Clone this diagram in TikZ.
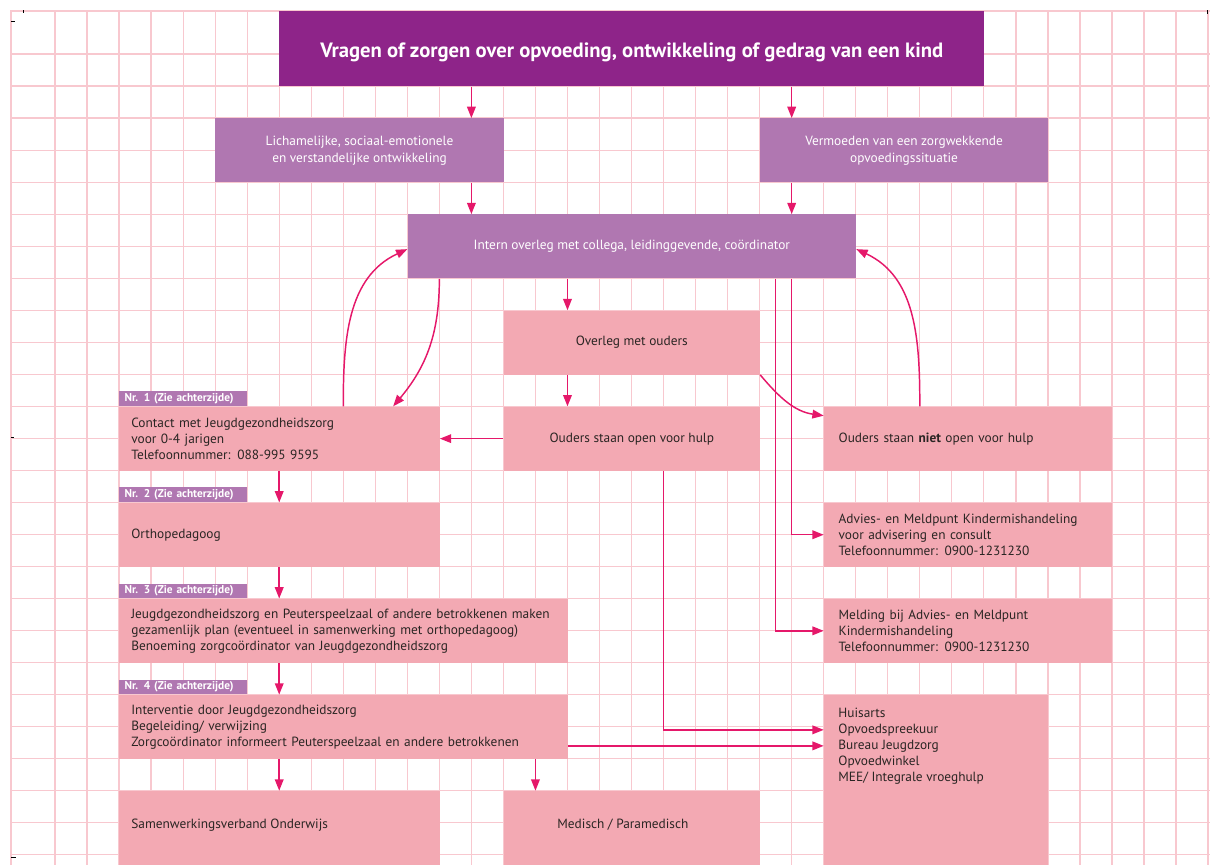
\documentclass[tikz,border=0pt]{standalone}
\usepackage{fontspec}
\setmainfont{PT Sans}
\usetikzlibrary{arrows.meta}
\definecolor{paars}{HTML}{8E2489}
\definecolor{lila}{HTML}{B077B1}
\definecolor{roze}{HTML}{F3A9B3}
\definecolor{roosterroze}{HTML}{F8C8CF}
\definecolor{pijlrood}{HTML}{E5186A}
\definecolor{donker}{HTML}{2A2523}
\tikzset{
    lijn/.style={draw=roosterroze, line width=0.9pt},
    pijl/.style={draw=pijlrood, line width=1.1pt, -{Triangle[length=8.5pt,width=6.5pt]}},
    kop/.style={fill=paars, text=white, anchor=north west, inner sep=0pt, text height=13.5pt, text depth=0pt,
        minimum width=528pt, minimum height=56.2pt, font=\fontsize{15.5}{18}\selectfont\bfseries},
    lilablok/.style={fill=lila, text=white, anchor=north west, inner sep=0pt, align=center,
        minimum height=48pt, font=\fontsize{10}{12.75}\selectfont},
    tekst/.style={text=donker, font=\fontsize{10}{12}\selectfont},
    rozeblok/.style={tekst, fill=roze, anchor=north west, inner sep=0pt, minimum height=48pt},
    links/.style={align=left, inner xsep=9pt, text width=#1},
    rechts/.style={align=left, inner xsep=11pt, text width=194pt},
    nummer/.style={fill=lila, text=white, anchor=south west, inner sep=0pt, inner xsep=4pt,
        text width=88pt, minimum height=11pt, align=left, font=\fontsize{8.5}{9}\selectfont\bfseries}
}
\begin{document}
\begin{tikzpicture}[x=24pt, y=24pt]
\useasboundingbox (-1.717,1.686) rectangle (36.06,-25.29);
% rooster
\foreach \i in {0,...,36}
{
    \draw[lijn] (\i,1.3425) -- (\i,-25.4);
}
\foreach \j in {0,...,25}
{
    \draw[lijn] (-1.374,-\j) -- (36.1,-\j);
}
\draw[lijn] (-1.374,-25.4) -- (-1.374,1.3425) -- (36.1,1.3425);
\draw[black, line width=0.6pt] (-1.374,1.03) -- (-1.25,1.03) (-1,1.374) -- (-1,1.28)
    (35.97,1.374) -- (35.97,1.25) (-1.374,-11.96) -- (-1.28,-11.96) (-1.374,-25.07) -- (-1.22,-25.07);

\node[kop] (vraag) at (7,1.3425) {Vragen of zorgen over opvoeding, ontwikkeling of gedrag van een kind};
\node[lilablok, minimum width=216pt] (lich) at (5,-2) {Lichamelijke, sociaal-emotionele\\en verstandelijke ontwikkeling};
\node[lilablok, minimum width=216pt] (verm) at (22,-2) {Vermoeden van een zorgwekkende\\opvoedingssituatie};
\node[lilablok, minimum width=336pt] (intern) at (11,-5) {Intern overleg met collega, leidinggevende, coördinator};
\node[rozeblok, minimum width=192pt] (overleg) at (14,-8) {Overleg met ouders};
\node[rozeblok, minimum width=192pt] (open) at (14,-11) {Ouders staan open voor hulp};
\node[rozeblok, rechts] (niet) at (24,-11) {Ouders staan \textbf{niet} open voor hulp};
\node[rozeblok, links=222pt] (contact) at (2,-11) {Contact met Jeugdgezondheidszorg\\voor 0-4 jarigen\\Telefoonnummer: 088-995 9595};
\node[rozeblok, links=222pt] (ortho) at (2,-14) {Orthopedagoog};
\node[rozeblok, rechts] (advies) at (24,-14) {Advies- en Meldpunt Kindermishandeling\\voor advisering en consult\\Telefoonnummer: 0900-1231230};
\node[rozeblok, links=318pt] (plan) at (2,-17) {Jeugdgezondheidszorg en Peuterspeelzaal of andere betrokkenen maken\\gezamenlijk plan (eventueel in samenwerking met orthopedagoog)\\Benoeming zorgcoördinator van Jeugdgezondheidszorg};
\node[rozeblok, rechts] (melding) at (24,-17) {Melding bij Advies- en Meldpunt\\Kindermishandeling\\Telefoonnummer: 0900-1231230};
\node[rozeblok, links=318pt] (interv) at (2,-20) {Interventie door Jeugdgezondheidszorg\\Begeleiding/ verwijzing\\Zorgcoördinator informeert Peuterspeelzaal en andere betrokkenen};
\node[rozeblok, minimum width=168pt, minimum height=132pt] (huisarts) at (24,-20) {};
\node[rozeblok, minimum width=240pt, minimum height=60pt] (samen) at (2,-23) {};
\node[rozeblok, minimum width=192pt, minimum height=60pt] (medisch) at (14,-23) {};
\node[tekst, anchor=west, align=left, inner sep=0pt] (huistekst) at (24.45,-21.6) {Huisarts\\Opvoedspreekuur\\Bureau Jeugdzorg\\Opvoedwinkel\\MEE/ Integrale vroeghulp};
\node[tekst, anchor=west, inner sep=0pt] (samentekst) at (2.375,-24.07) {Samenwerkingsverband Onderwijs};
\node[tekst, inner sep=0pt] (medtekst) at (17.73,-24.07) {Medisch / Paramedisch};
\foreach \n/\blok in {1/contact,2/ortho,3/plan,4/interv}
{
    \node[nummer] (nr\n) at (\blok.north west) {Nr. \n\ (Zie achterzijde)};
}

% pijlen
\foreach \k in {7,9,12,13,15,16,19,23,27}
{
    \coordinate (k\k) at (\k,0);
}
\coordinate (meld) at (22.5,0);
\coordinate (r1) at (0,-21.6);
\coordinate (r2) at (0,-21.1);
\draw[pijl] (vraag.south -| k13) -- (lich.north -| k13);
\draw[pijl] (vraag.south -| k23) -- (verm.north -| k23);
\draw[pijl] (lich.south -| k13) -- (intern.north -| k13);
\draw[pijl] (verm.south -| k23) -- (intern.north -| k23);
\draw[pijl] (intern.south -| k16) -- (overleg.north -| k16);
\draw[pijl] (overleg.south -| k16) -- (open.north -| k16);
\draw[pijl] (overleg.south east) to[out=-50, in=172] ([yshift=-7pt]niet.north west);
\draw[pijl] (open.west) -- (contact.east);
\draw[pijl] (intern.south -| k12) to[out=-90, in=50] ([xshift=-35pt]contact.north east);
\draw[pijl] (contact.north -| k9) to[out=90, in=-155] ([yshift=-2pt]intern.west);
\draw[pijl] (niet.north -| k27) to[out=90, in=-25] ([yshift=-2pt]intern.east);
\draw[pijl] (intern.south -| k23) |- (advies.west);
\draw[pijl] (intern.south -| meld) |- (melding.west);
\draw[pijl] (contact.south -| k7) -- (ortho.north -| k7);
\draw[pijl] (ortho.south -| k7) -- (plan.north -| k7);
\draw[pijl] (plan.south -| k7) -- (interv.north -| k7);
\draw[pijl] (interv.south -| k7) -- (samen.north -| k7);
\draw[pijl] (interv.south -| k15) -- (medisch.north -| k15);
\draw[pijl] (interv.east |- r1) -- (huisarts.west |- r1);
\draw[pijl] (open.south -| k19) |- (huisarts.west |- r2);
\end{tikzpicture}
\end{document}
